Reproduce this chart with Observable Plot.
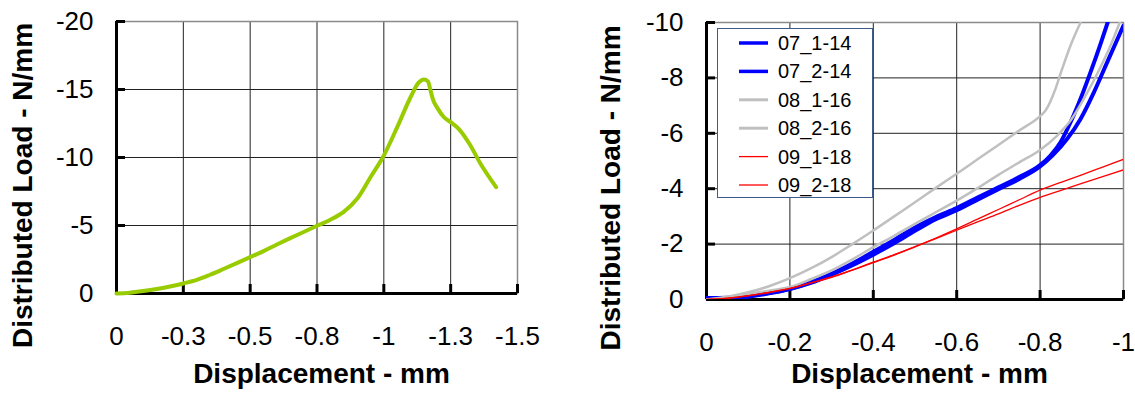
<!DOCTYPE html>
<html>
<head>
<meta charset="utf-8">
<script src="https://cdn.jsdelivr.net/npm/d3@7"></script>
<script src="https://cdn.jsdelivr.net/npm/@observablehq/plot@0.6"></script>
<style>
  html, body { margin: 0; padding: 0; background: #fff; }
  #wrap { position: relative; width: 1135px; height: 394px; overflow: hidden; font-family: "Liberation Sans", Arial, sans-serif; }
  #left, #right { position: absolute; top: 0; }
  #left { left: 0; }
  #right { left: 600px; }
  #legend { position: absolute; left: 717px; top: 28px; width: 154px; height: 168px; background: #fff; border: 1px solid #3d5c8c; }
  svg { font-family: "Liberation Sans", Arial, sans-serif; }
</style>
</head>
<body>
<div id="wrap">
  <div id="left"></div>
  <div id="right"></div>
  <div id="legend"></div>
</div>
<script>
// ---------- Data ----------
const xTitle = "Displacement - mm";
const yTitle = "Distributed Load - N/mm";

// Left chart
const leftXTicks = [0, -0.25, -0.5, -0.75, -1, -1.25, -1.5];
const leftXLabels = ["0", "-0.3", "-0.5", "-0.8", "-1", "-1.3", "-1.5"];
const leftYTicks = [0, -5, -10, -15, -20];
const leftYLabels = ["0", "-5", "-10", "-15", "-20"];
const leftDisp = [0, -0.05, -0.1, -0.15, -0.2, -0.25, -0.3, -0.35, -0.4, -0.45, -0.5, -0.55, -0.6, -0.65, -0.7, -0.75, -0.8, -0.85, -0.9, -0.95, -1.0, -1.05, -1.1, -1.13, -1.15, -1.165, -1.175, -1.185, -1.2, -1.225, -1.25, -1.28, -1.32, -1.36, -1.42];
const leftLoad = [0, -0.06, -0.18, -0.33, -0.52, -0.74, -1.0, -1.38, -1.8, -2.23, -2.67, -3.12, -3.6, -4.07, -4.52, -4.98, -5.42, -6.0, -6.96, -8.55, -10.15, -12.23, -14.43, -15.5, -15.74, -15.6, -14.9, -14.2, -13.65, -12.96, -12.6, -12.11, -11.01, -9.6, -7.82];

// Right chart
const rightXTicks = [0, -0.2, -0.4, -0.6, -0.8, -1];
const rightXLabels = ["0", "-0.2", "-0.4", "-0.6", "-0.8", "-1"];
const rightYTicks = [0, -2, -4, -6, -8, -10];
const rightYLabels = ["0", "-2", "-4", "-6", "-8", "-10"];

const seriesNames = ["07_1-14", "07_2-14", "08_1-16", "08_2-16", "09_1-18", "09_2-18"];

const disp07_1 = [0, -0.05, -0.1, -0.15, -0.2, -0.25, -0.3, -0.35, -0.4, -0.45, -0.5, -0.55, -0.6, -0.65, -0.7, -0.75, -0.8, -0.825, -0.849, -0.873, -0.897, -0.921, -0.945, -0.962];
const load07_1 = [-0.05, -0.06, -0.12, -0.24, -0.39, -0.62, -0.93, -1.3, -1.72, -2.15, -2.6, -2.98, -3.3, -3.68, -4.05, -4.42, -4.85, -5.2, -5.68, -6.4, -7.25, -8.21, -9.23, -10.0];

const disp07_2 = [0, -0.05, -0.1, -0.15, -0.2, -0.25, -0.3, -0.35, -0.4, -0.45, -0.5, -0.55, -0.6, -0.65, -0.7, -0.75, -0.8, -0.83, -0.865, -0.897, -0.929, -0.961, -1.0];
const load07_2 = [0, -0.03, -0.1, -0.22, -0.38, -0.6, -0.9, -1.24, -1.62, -2.03, -2.48, -2.9, -3.22, -3.6, -3.98, -4.35, -4.8, -5.2, -5.8, -6.52, -7.48, -8.57, -9.89];

const disp08_1 = [0, -0.05, -0.1, -0.15, -0.2, -0.25, -0.3, -0.35, -0.4, -0.45, -0.5, -0.55, -0.6, -0.65, -0.7, -0.75, -0.8, -0.813, -0.837, -0.853, -0.873, -0.897];
const load08_1 = [0, -0.1, -0.26, -0.48, -0.77, -1.12, -1.53, -2.0, -2.49, -3.0, -3.51, -4.03, -4.54, -5.06, -5.58, -6.1, -6.62, -6.82, -7.61, -8.33, -9.17, -10.0];

const disp08_2 = [0, -0.05, -0.1, -0.15, -0.2, -0.25, -0.3, -0.35, -0.4, -0.45, -0.5, -0.55, -0.6, -0.65, -0.7, -0.75, -0.8, -0.841, -0.873, -0.905, -0.937, -0.969, -0.991];
const load08_2 = [0, -0.07, -0.2, -0.32, -0.45, -0.73, -1.05, -1.45, -1.89, -2.3, -2.73, -3.15, -3.57, -4.02, -4.5, -4.95, -5.4, -5.92, -6.46, -7.25, -8.15, -9.17, -10.0];

const disp09 = [0, -0.05, -0.1, -0.15, -0.2, -0.25, -0.3, -0.35, -0.4, -0.45, -0.5, -0.55, -0.6, -0.65, -0.7, -0.75, -0.8, -0.85, -0.9, -0.95, -1.0];
const load09_1 = [0, -0.04, -0.13, -0.25, -0.4, -0.6, -0.82, -1.07, -1.35, -1.62, -1.91, -2.22, -2.55, -2.9, -3.25, -3.6, -3.95, -4.23, -4.5, -4.78, -5.06];
const load09_2 = [0, -0.05, -0.14, -0.26, -0.4, -0.6, -0.8, -1.06, -1.33, -1.6, -1.9, -2.2, -2.5, -2.8, -3.09, -3.4, -3.69, -3.94, -4.19, -4.44, -4.68];

// ---------- Styles ----------
const seriesStyle = {
  "07_1-14": {stroke: "#0000ff", width: 4, legendWidth: 3.5},
  "07_2-14": {stroke: "#0000ff", width: 4, legendWidth: 3.5},
  "08_1-16": {stroke: "#c0c0c0", width: 2.5, legendWidth: 3},
  "08_2-16": {stroke: "#c0c0c0", width: 2.5, legendWidth: 3},
  "09_1-18": {stroke: "#ff0000", width: 1.3, legendWidth: 1.3},
  "09_2-18": {stroke: "#ff0000", width: 1.3, legendWidth: 1.3}
};

const zipXY = (xs, ys) => xs.map((x, i) => ({x, y: ys[i]}));
const rightSeries = [
  zipXY(disp07_1, load07_1),
  zipXY(disp07_2, load07_2),
  zipXY(disp08_1, load08_1),
  zipXY(disp08_2, load08_2),
  zipXY(disp09, load09_1),
  zipXY(disp09, load09_2)
];
const leftData = zipXY(leftDisp, leftLoad);

const TICK_FONT = 26;
const TITLE_FONT = 28;

function frameMarks(xTicks, xLabels, yTicks, yLabels) {
  return [
    Plot.gridX(xTicks, {stroke: "#222", strokeOpacity: 1, strokeWidth: 1}),
    Plot.gridY(yTicks, {stroke: "#222", strokeOpacity: 1, strokeWidth: 1}),
    Plot.frame({stroke: "#8a8a8a", strokeWidth: 1.5}),
    Plot.ruleX([0], {stroke: "#000", strokeWidth: 3}),
    Plot.ruleY([0], {stroke: "#000", strokeWidth: 3}),
    // inward tick marks
    Plot.axisX(xTicks, {anchor: "bottom", tickSize: 9, dy: -9, strokeWidth: 3, stroke: "#000", tickFormat: () => "", label: null}),
    Plot.axisY(yTicks, {anchor: "left", tickSize: 9, dx: 9, strokeWidth: 3, stroke: "#000", tickFormat: () => "", label: null}),
    // tick labels
    Plot.axisX(xTicks, {anchor: "bottom", tickSize: 0, tickPadding: 33, fontSize: TICK_FONT, fill: "#000",
      tickFormat: d => xLabels[xTicks.indexOf(d)], label: null}),
    Plot.axisY(yTicks, {anchor: "left", tickSize: 0, tickPadding: 23, fontSize: TICK_FONT, fill: "#000",
      tickFormat: d => yLabels[yTicks.indexOf(d)], label: null})
  ];
}

function titleMarks(xdy, ydx, ydy) {
  return [
    Plot.text([xTitle], {text: d => d, frameAnchor: "bottom", lineAnchor: "bottom", textAnchor: "middle",
      dx: 4.5, dy: xdy, fontSize: TITLE_FONT, fontWeight: "bold", fill: "#000"}),
    Plot.text([yTitle], {text: d => d, frameAnchor: "left", lineAnchor: "middle", textAnchor: "middle",
      rotate: -90, dx: ydx, dy: ydy, fontSize: TITLE_FONT, fontWeight: "bold", fill: "#000"})
  ];
}

const left = Plot.plot({
  width: 560, height: 394,
  marginLeft: 116, marginRight: 43, marginTop: 21, marginBottom: 101,
  style: {background: "transparent", fontFamily: "Liberation Sans, Arial, sans-serif", overflow: "visible"},
  x: {domain: [0, -1.5]},
  y: {domain: [0, -20]},
  marks: [
    ...frameMarks(leftXTicks, leftXLabels, leftYTicks, leftYLabels),
    Plot.line(leftData, {x: "x", y: "y", stroke: "#99cc00", strokeWidth: 4, curve: "monotone-x", strokeLinecap: "round", strokeLinejoin: "round"}),
    ...titleMarks(89, -93, 28)
  ]
});
document.getElementById("left").appendChild(left);

const right = Plot.plot({
  width: 535, height: 394,
  marginLeft: 106, marginRight: 12, marginTop: 22, marginBottom: 95,
  style: {background: "transparent", fontFamily: "Liberation Sans, Arial, sans-serif", overflow: "visible"},
  x: {domain: [0, -1]},
  y: {domain: [0, -10]},
  marks: [
    ...frameMarks(rightXTicks, rightXLabels, rightYTicks, rightYLabels),
    ...rightSeries.map((s, i) => Plot.line(s, {x: "x", y: "y", stroke: seriesStyle[seriesNames[i]].stroke,
      strokeWidth: seriesStyle[seriesNames[i]].width, curve: "monotone-x", clip: true})),
    ...titleMarks(83, -95, 27)
  ]
});
document.getElementById("right").appendChild(right);

// ---------- Legend ----------
const legend = d3.select("#legend").append("svg").attr("width", 154).attr("height", 168)
  .style("font-family", "Liberation Sans, Arial, sans-serif");
const row = legend.selectAll("g").data(seriesNames).join("g")
  .attr("transform", (d, i) => `translate(0, ${14 + i * 28.4})`);
row.append("line").attr("x1", 21).attr("x2", 50).attr("y1", 0).attr("y2", 0)
  .attr("stroke", d => seriesStyle[d].stroke).attr("stroke-width", d => seriesStyle[d].legendWidth);
row.append("text").attr("x", 60).attr("y", 0).attr("dy", "0.35em")
  .attr("font-size", 20).attr("fill", "#000").text(d => d);
</script>
</body>
</html>
